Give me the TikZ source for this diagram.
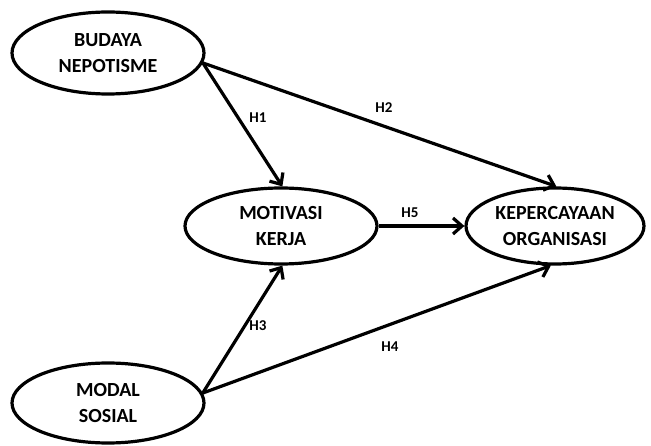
\documentclass[tikz,border=0pt]{standalone}
\usepackage{fontspec}
\setmainfont{Carlito}
\usetikzlibrary{shapes.geometric,arrows.meta}
\begin{document}
\begin{tikzpicture}[x=1pt,y=-1pt,
  construct/.style={ellipse,draw,line width=3.2pt,inner sep=0pt,align=center,
    font=\fontsize{20}{26}\selectfont\bfseries},
  path/.style={line width=3.2pt,-{Straight Barb[length=9pt,width=16pt,line width=3.2pt]}},
  hyp/.style={font=\fontsize{15}{17}\selectfont\bfseries,inner sep=1pt}]
\useasboundingbox (0,0) rectangle (651,446);
\node[construct,minimum width=192pt,minimum height=82pt] (bn) at (108,53) {BUDAYA\\NEPOTISME};
\node[construct,minimum width=192pt,minimum height=76pt] (mk) at (281,226) {MOTIVASI\\KERJA};
\node[construct,minimum width=178pt,minimum height=76pt] (ko) at (555,226) {KEPERCAYAAN\\ORGANISASI};
\node[construct,minimum width=192pt,minimum height=80pt] (ms) at (108,403) {MODAL\\SOSIAL};
\draw[path] (bn.-6) -- (mk.88);
\draw[path] (bn.-6) -- (ko.88);
\draw[path] (mk.east) -- (ko.west);
\draw[path] (ms.6) -- (mk.-88);
\draw[path] (ms.6) -- (ko.-96);
\node[hyp] (h1) at (258,118) {H1};
\node[hyp] (h2) at (384,108) {H2};
\node[hyp] (h5) at (410,213) {H5};
\node[hyp] (h3) at (258,326) {H3};
\node[hyp] (h4) at (390,347) {H4};
\end{tikzpicture}
\end{document}
